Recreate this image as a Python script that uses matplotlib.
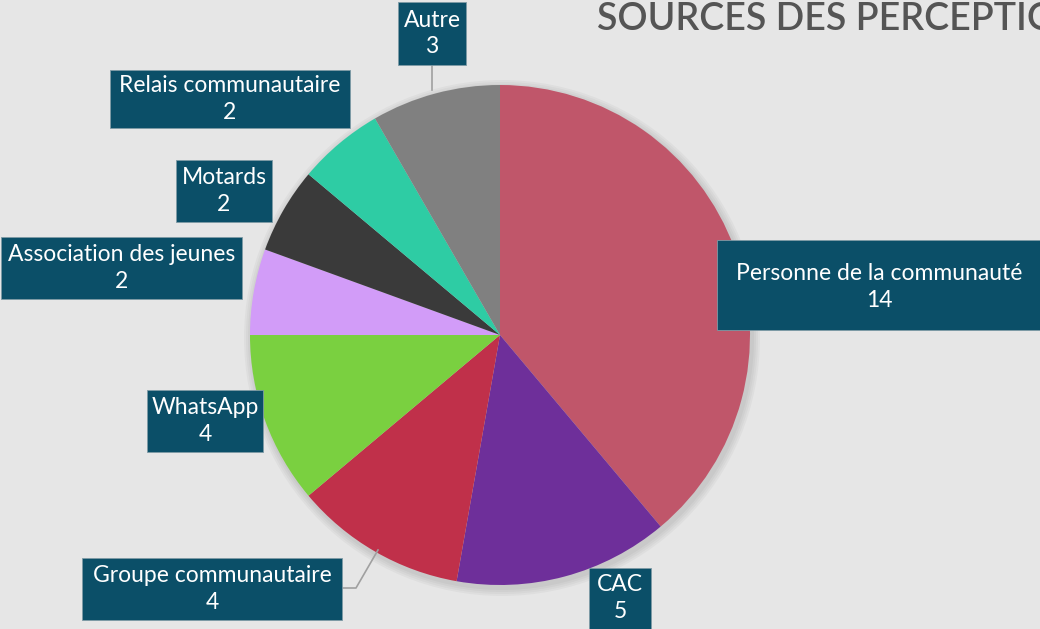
import matplotlib
matplotlib.use("Agg")
import matplotlib.pyplot as plt
from matplotlib.patches import Rectangle, Circle

categories = ["Personne de la communauté", "CAC", "Groupe communautaire", "WhatsApp",
              "Association des jeunes", "Motards", "Relais communautaire", "Autre"]
values = [14, 5, 4, 4, 2, 2, 2, 3]
colors = ["#c0566a", "#6e2f9a", "#c0304a", "#7ad040", "#d29cf8", "#3a3a3a", "#2ecca4", "#808080"]
title = "SOURCES DES PERCEPTIONS"

W, H = 1040, 629
fig = plt.figure(figsize=(W / 100, H / 100), dpi=100)
fig.patch.set_facecolor("#e6e6e6")
ax = fig.add_axes([0, 0, 1, 1])

def Y(y):
    return H - y

cx, cy, r = 500, Y(335), 250
# soft shadow
for i, a in enumerate([0.03, 0.03, 0.03, 0.03]):
    ax.add_patch(Circle((cx + 2, cy - 3), r + 2 + i * 2, color="black", alpha=a, lw=0, zorder=1))

ax.pie(values, colors=colors, startangle=90, counterclock=False, center=(cx, cy),
       radius=r, wedgeprops=dict(linewidth=0, zorder=2), frame=True)
ax.set_xlim(0, W)
ax.set_ylim(0, H)
ax.axis("off")

# label boxes (x0, y0, x1, y1 in pixels from top-left)
boxes = {
    "Autre": (398, 2, 466, 65),
    "Relais communautaire": (110, 70, 350, 128),
    "Motards": (176, 160, 272, 222),
    "Association des jeunes": (1, 237, 242, 299),
    "WhatsApp": (147, 390, 263, 452),
    "Groupe communautaire": (82, 558, 342, 620),
    "CAC": (589, 568, 651, 640),
    "Personne de la communauté": (717, 240, 1045, 330),
}
box_color = "#0b4f68"
font = ["Lato", "DejaVu Sans"]
for cat, val in zip(categories, values):
    x0, y0, x1, y1 = boxes[cat]
    ax.add_patch(Rectangle((x0, Y(y1)), x1 - x0, y1 - y0, facecolor=box_color,
                           edgecolor="#7f9aa5", lw=0.6, zorder=5))
    if cat == "CAC":
        tcy = 598
    elif cat == "Personne de la communauté":
        tcy = 287
    else:
        tcy = (y0 + y1) / 2
    xc = (x0 + x1) / 2 if cat != "Personne de la communauté" else 879
    ax.text(xc, Y(tcy), f"{cat}\n{val}", ha="center", va="center", color="white",
            fontsize=16.5, family=font, linespacing=1.35, zorder=6)

# leader lines
ax.plot([432, 432], [Y(65), Y(90)], color="#a0a0a0", lw=1.2, zorder=4)
ax.plot([343, 356, 378], [Y(588), Y(588), Y(550)], color="#a0a0a0", lw=1.2, zorder=4)

ax.text(597, Y(20), title, ha="left", va="center", color="#555555", fontsize=27,
        family=font, fontweight="semibold", zorder=6)

fig.savefig("out.png", dpi=100, facecolor=fig.get_facecolor())
